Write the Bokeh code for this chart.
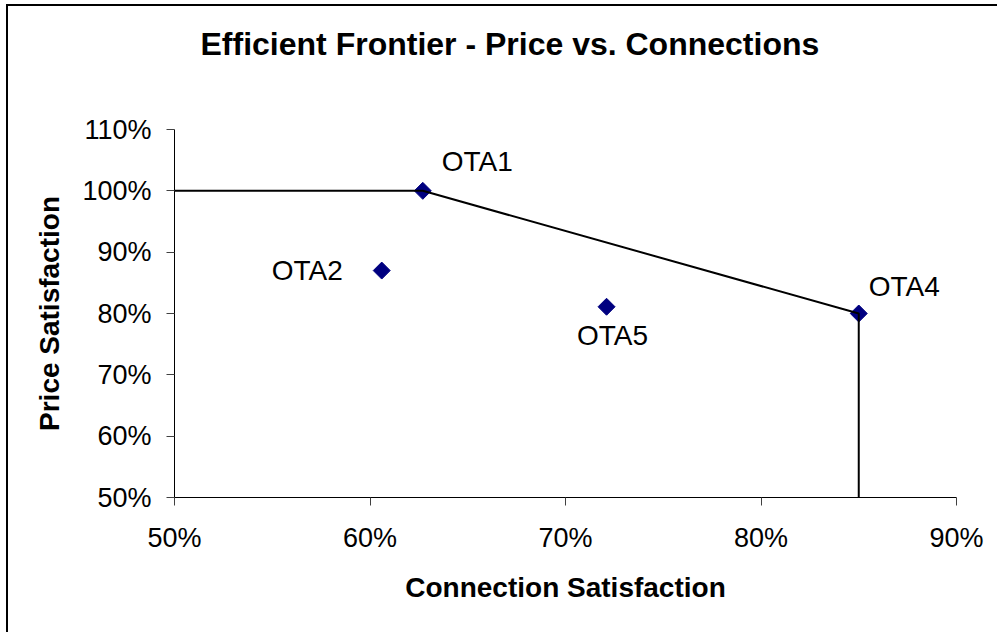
import numpy as np
from bokeh.plotting import figure
from bokeh.models import Range1d, FixedTicker, NumeralTickFormatter, ColumnDataSource, LabelSet, Title
from bokeh.core.properties import value
from bokeh.embed import file_html
from bokeh.resources import INLINE

# Data
names = ["OTA1", "OTA2", "OTA4", "OTA5"]
connection = [0.627, 0.606, 0.850, 0.721]
price = [1.000, 0.870, 0.800, 0.811]

frontier_x = [0.50, 0.627, 0.850, 0.850]
frontier_y = [1.00, 1.000, 0.800, 0.500]

x_ticks = [0.5, 0.6, 0.7, 0.8, 0.9]
y_ticks = [0.5, 0.6, 0.7, 0.8, 0.9, 1.0, 1.1]

title_text = "Efficient Frontier - Price vs. Connections"

# label placement (style)
label_dx = [19, -39, 10, 6]
label_dy = [29, 0, 27, -29]
label_align = ["left", "right", "left", "center"]

FONT = "Liberation Sans"

p = figure(
    width=989, height=626,
    frame_width=782, frame_height=368,
    min_border_left=166, min_border_top=123, min_border_right=41, min_border_bottom=135,
    x_range=Range1d(0.5, 0.9), y_range=Range1d(0.5, 1.1),
    output_backend="svg", toolbar_location=None,
)
p.title = None
p.styles = {"border-top": "2px solid black", "border-left": "2px solid black",
            "margin-top": "4px", "margin-left": "6px"}

p.outline_line_color = None
p.xgrid.visible = False
p.ygrid.visible = False
p.background_fill_color = "white"
p.border_fill_color = "white"

for ax in (p.xaxis[0], p.yaxis[0]):
    ax.axis_line_color = "black"
    ax.axis_line_width = 1
    ax.major_tick_line_color = "#404040"
    ax.major_tick_out = 8
    ax.major_tick_in = 0
    ax.minor_tick_line_color = None
    ax.major_label_text_font = FONT
    ax.major_label_text_font_size = "27px"
    ax.major_label_text_color = "black"
    ax.axis_label_text_font = FONT
    ax.axis_label_text_font_size = "28px"
    ax.axis_label_text_font_style = "bold"
    ax.axis_label_text_color = "black"
    ax.formatter = NumeralTickFormatter(format="0%")

p.xaxis.ticker = FixedTicker(ticks=x_ticks)
p.yaxis.ticker = FixedTicker(ticks=y_ticks)
p.xaxis.axis_label = "Connection Satisfaction"
p.yaxis.axis_label = "Price Satisfaction"
p.xaxis.major_label_standoff = 17
p.yaxis.major_label_standoff = 15
p.xaxis.axis_label_standoff = 16
p.yaxis.axis_label_standoff = 14

src = ColumnDataSource(dict(x=connection, y=price, name=names,
                            dx=label_dx, dy=label_dy, align=label_align))

p.scatter("x", "y", source=src, marker="square", angle=np.pi / 4, size=12,
          fill_color="#000080", line_color="#000080")
p.line(frontier_x, frontier_y, line_color="black", line_width=2)

labels = LabelSet(x="x", y="y", text="name", source=src, x_offset="dx", y_offset="dy",
                  text_align="align", text_baseline="middle",
                  text_font=value(FONT), text_font_size="28px", text_color="black")
p.add_layout(labels)

# spacer between frame and title, then the title itself
p.add_layout(Title(text=" ", text_font_size="1px", standoff=60), "above")
p.add_layout(Title(text=title_text, align="left", offset=26, standoff=10,
                   text_font=FONT, text_font_size="32px", text_font_style="bold",
                   text_color="black"), "above")

open("out.html", "w").write(file_html(p, INLINE))
